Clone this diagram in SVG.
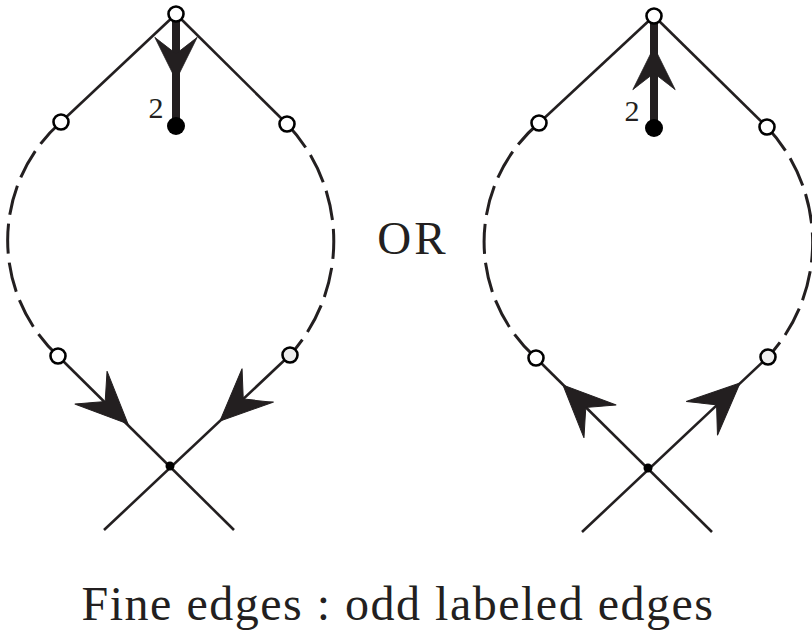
<svg xmlns="http://www.w3.org/2000/svg" xmlns:xlink="http://www.w3.org/1999/xlink" width="812" height="635" viewBox="0 0 812 635">
<style>
.ln{fill:none;stroke:#231f20;stroke-width:2.6;}
.dsh{fill:none;stroke:#231f20;stroke-width:3;stroke-dasharray:30 9;}
.thick{fill:none;stroke:#231f20;stroke-width:8;}
.open{fill:#fff;stroke:#000;stroke-width:2.6;}
.grey{fill:#eeeeee;stroke:#000;stroke-width:2.6;}
.blk{fill:#000;}
.ah{fill:#231f20;stroke:#231f20;stroke-width:1;stroke-linejoin:miter;}
text{fill:#231f20;}
</style>
<defs>
<path id="head" d="M0,0 L-52,-23 Q-38,-7 -32,0 Q-38,7 -52,23 Z"/>
</defs>
<rect width="812" height="635" fill="#fff"/>
<g id="connectors">
  <path class="ln" d="M176,14 L61,122"/>
  <path class="ln" d="M176,14 L287,124"/>
  <path class="dsh" d="M61,122 A158 158 0 0 0 58,356"/>
  <path class="dsh" d="M287,124 A170 170 0 0 1 290,355"/>
  <path class="ln" d="M58,356 L234,530"/>
  <path class="ln" d="M290,355 L104,530"/>
  <path class="thick" d="M176,14 L176,126"/>
  <use href="#head" class="ah" transform="translate(176,80) rotate(90) scale(0.82,0.92)"/>
  <use href="#head" class="ah" transform="translate(128,424) rotate(44.5)"/>
  <use href="#head" class="ah" transform="translate(220,421) rotate(136.7)"/>
  <path class="ln" d="M654,16 L539,123"/>
  <path class="ln" d="M654,16 L767,127"/>
  <path class="dsh" d="M539,123 A156 156 0 0 0 536,358"/>
  <path class="dsh" d="M767,127 A169 169 0 0 1 768,357"/>
  <path class="ln" d="M536,358 L712,532"/>
  <path class="ln" d="M768,357 L582,532"/>
  <path class="thick" d="M654,16 L654,128"/>
  <use href="#head" class="ah" transform="translate(654,47) rotate(-90) scale(0.82,0.92)"/>
  <use href="#head" class="ah" transform="translate(563,385) rotate(-135.5)"/>
  <use href="#head" class="ah" transform="translate(740,383) rotate(-42.8)"/>
</g>
<g id="left-top"><circle class="open" cx="176" cy="14" r="7.5"/></g>
<g id="left-ul"><circle class="open" cx="61" cy="122" r="7.5"/></g>
<g id="left-ur"><circle class="open" cx="287" cy="124" r="7.5"/></g>
<g id="left-ll"><circle class="open" cx="58" cy="356" r="7.5"/></g>
<g id="left-lr"><circle class="grey" cx="290" cy="355" r="7.5"/></g>
<g id="left-dot"><circle class="blk" cx="176" cy="126" r="9"/><text x="156" y="118" font-family="Liberation Serif, Times New Roman, serif" font-size="30" text-anchor="middle">2</text></g>
<g id="left-cross"><circle class="blk" cx="170" cy="466" r="4.5"/></g>
<g id="right-top"><circle class="open" cx="654" cy="16" r="7.5"/></g>
<g id="right-ul"><circle class="open" cx="539" cy="123" r="7.5"/></g>
<g id="right-ur"><circle class="open" cx="767" cy="127" r="7.5"/></g>
<g id="right-ll"><circle class="open" cx="536" cy="358" r="7.5"/></g>
<g id="right-lr"><circle class="grey" cx="768" cy="357" r="7.5"/></g>
<g id="right-dot"><circle class="blk" cx="654" cy="128" r="9"/><text x="632" y="121" font-family="Liberation Serif, Times New Roman, serif" font-size="30" text-anchor="middle">2</text></g>
<g id="right-cross"><circle class="blk" cx="648" cy="468" r="4.5"/></g>
<text x="413" y="254" font-family="Liberation Serif, Times New Roman, serif" font-size="47" letter-spacing="3" text-anchor="middle">OR</text>
<text x="398" y="620" font-family="Liberation Serif, Times New Roman, serif" font-size="48" letter-spacing="1.5" text-anchor="middle">Fine edges : odd labeled edges</text>
</svg>
